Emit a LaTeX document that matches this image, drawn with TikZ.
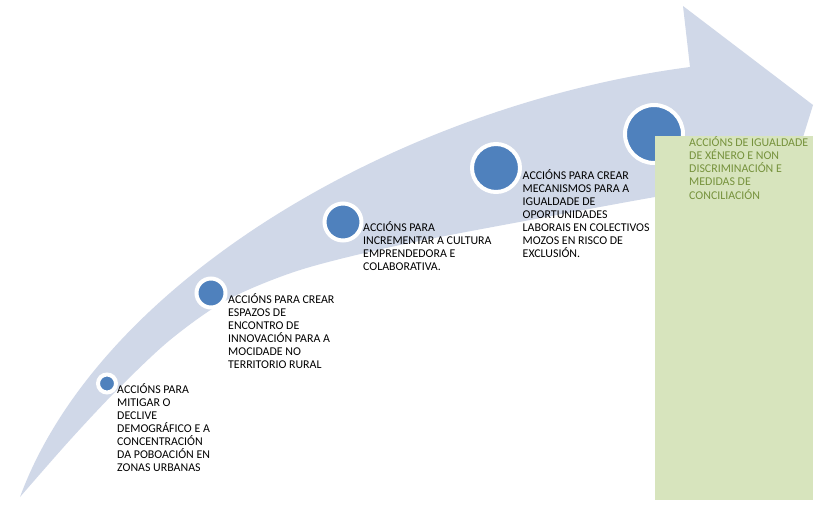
\documentclass[tikz,border=0pt]{standalone}
\usepackage{fontspec}
\setmainfont{Carlito}
\definecolor{bandgray}{RGB}{208,216,232}
\definecolor{dotblue}{RGB}{79,129,189}
\definecolor{boxgreen}{RGB}{215,228,189}
\definecolor{textgreen}{RGB}{118,146,60}
\tikzset{
  dot/.style={circle,fill=dotblue,draw=white,line width=4pt,inner sep=0pt},
  steptext/.style={anchor=base west,align=left,inner sep=0pt,font=\fontsize{11.9}{13.1}\selectfont}
}
\begin{document}
\begin{tikzpicture}[x=1pt,y=-1pt]
            \fill[white] (0,0) rectangle (830,520);
            \useasboundingbox (0,0) rectangle (830,520);
            \fill[bandgray] (20,497) .. controls (100,280) and (400,105) .. (690,67)
              -- (683,6) -- (813,105) -- (768,250) -- (720,187)
              -- plot[smooth] coordinates {(720,187) (655,197) (530,220) (400,245) (300,270) (227,300) (170,340) (117,390) (70,440) (20,497)} -- cycle;
            \node[dot,minimum size=18pt] (d1) at (107,383.5) {};
            \node[dot,minimum size=29pt] (d2) at (211,293) {};
            \node[dot,minimum size=37pt] (d3) at (343,222) {};
            \node[dot,minimum size=48pt] (d4) at (496,168) {};
            \node[dot,minimum size=58pt] (d5) at (654,134) {};
            \fill[boxgreen] (655,136) rectangle (813,500);
            \node[steptext] (t1) at (117,471.9) {ACCIÓNS PARA\\MITIGAR O\\DECLIVE\\DEMOGRÁFICO E A\\CONCENTRACIÓN\\DA POBOACIÓN EN\\ZONAS URBANAS};
            \node[steptext] (t2) at (228,368.8) {ACCIÓNS PARA CREAR\\ESPAZOS DE\\ENCONTRO DE\\INNOVACIÓN PARA A\\MOCIDADE NO\\TERRITORIO RURAL};
            \node[steptext] (t3) at (363,270.8) {ACCIÓNS PARA\\INCREMENTAR A CULTURA\\EMPRENDEDORA E\\COLABORATIVA.};
            \node[steptext] (t4) at (522.5,257.8) {ACCIÓNS PARA CREAR\\MECANISMOS PARA A\\IGUALDADE DE\\OPORTUNIDADES\\LABORAIS EN COLECTIVOS\\MOZOS EN RISCO DE\\EXCLUSIÓN.};
            \node[steptext,text=textgreen] (t5) at (689,199) {ACCIÓNS DE IGUALDADE\\DE XÉNERO E NON\\DISCRIMINACIÓN E\\MEDIDAS DE\\CONCILIACIÓN};
\end{tikzpicture}
\end{document}
